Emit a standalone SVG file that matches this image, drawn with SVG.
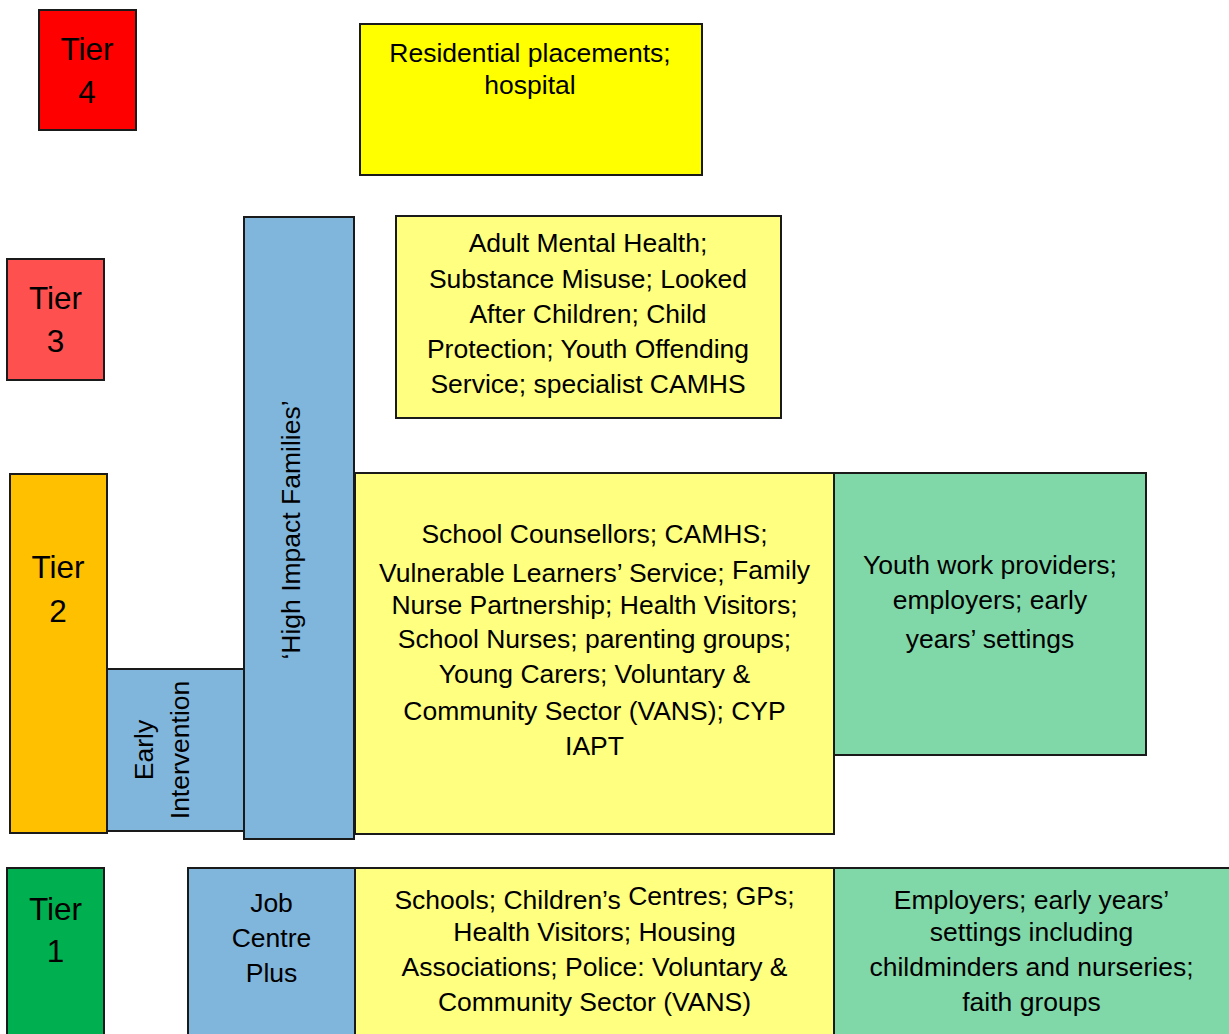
<svg xmlns="http://www.w3.org/2000/svg" width="1229" height="1034" viewBox="0 0 1229 1034">
  <style>
    .box { stroke: #1a1a1a; stroke-width: 2; }
    .t4 { fill: #FF0000; }
    .t3 { fill: #FF5050; }
    .t2 { fill: #FFC000; }
    .t1 { fill: #00B050; }
    .blue { fill: #80B6DC; }
    .yel { fill: #FFFF80; }
    .yelb { fill: #FFFF00; }
    .grn { fill: #80D8A8; }
    text { font-family: "Liberation Sans", Arial, sans-serif; fill: #000; text-anchor: middle; }
    .tier { font-size: 31.5px; }
    .body { font-size: 26.5px; }
  </style>
  <rect width="1229" height="1034" fill="#ffffff"/>

  <!-- Tier 4 -->
  <g id="tier4">
    <rect class="box t4" x="39" y="10" width="97" height="120"/>
    <text class="tier" x="87" y="60">Tier</text>
    <text class="tier" x="87" y="103">4</text>
  </g>
  <g id="residential">
    <rect class="box yelb" x="360" y="24" width="342" height="151"/>
    <text class="body" x="530" y="62">Residential placements;</text>
    <text class="body" x="530" y="94">hospital</text>
  </g>

  <!-- Tier 3 -->
  <g id="tier3">
    <rect class="box t3" x="7" y="259" width="97" height="121"/>
    <text class="tier" x="55.5" y="309">Tier</text>
    <text class="tier" x="55.5" y="352">3</text>
  </g>
  <g id="specialist">
    <rect class="box yel" x="396" y="216" width="385" height="202"/>
    <text class="body" x="588" y="252">Adult Mental Health;</text>
    <text class="body" x="588" y="288">Substance Misuse; Looked</text>
    <text class="body" x="588" y="323">After Children; Child</text>
    <text class="body" x="588" y="358">Protection; Youth Offending</text>
    <text class="body" x="588" y="393">Service; specialist CAMHS</text>
  </g>

  <!-- Tier 2 -->
  <g id="tier2">
    <rect class="box t2" x="10" y="474" width="97" height="359"/>
    <text class="tier" x="58" y="578">Tier</text>
    <text class="tier" x="58" y="622">2</text>
  </g>
  <g id="early-intervention">
    <rect class="box blue" x="107" y="669" width="137" height="162"/>
    <text class="body" transform="translate(153 750) rotate(-90)">Early</text>
    <text class="body" transform="translate(189 750) rotate(-90)">Intervention</text>
  </g>
  <g id="high-impact">
    <rect class="box blue" x="244" y="217" width="110" height="622"/>
    <text class="body" transform="translate(300 530) rotate(-90)">‘High Impact Families’</text>
  </g>
  <g id="targeted">
    <rect class="box yel" x="355" y="473" width="479" height="361"/>
    <text class="body" x="594.5" y="543">School Counsellors; CAMHS;</text>
    <text class="body" x="594.5" y="582">Vulnerable Learners’ Service; <tspan dy="-3">Family</tspan></text>
    <text class="body" x="594.5" y="614">Nurse Partnership; Health Visitors;</text>
    <text class="body" x="594.5" y="648">School Nurses; parenting groups;</text>
    <text class="body" x="594.5" y="683">Young Carers; Voluntary &amp;</text>
    <text class="body" x="594.5" y="720">Community Sector (VANS); CYP</text>
    <text class="body" x="594.5" y="755">IAPT</text>
  </g>
  <g id="youth-work">
    <rect class="box grn" x="834" y="473" width="312" height="282"/>
    <text class="body" x="990" y="574">Youth work providers;</text>
    <text class="body" x="990" y="609">employers; early</text>
    <text class="body" x="990" y="648">years’ settings</text>
  </g>

  <!-- Tier 1 -->
  <g id="tier1">
    <rect class="box t1" x="7" y="868" width="97" height="180"/>
    <text class="tier" x="55.5" y="920">Tier</text>
    <text class="tier" x="55.5" y="962">1</text>
  </g>
  <g id="job-centre">
    <rect class="box blue" x="188" y="868" width="167" height="180"/>
    <text class="body" x="271.5" y="912">Job</text>
    <text class="body" x="271.5" y="947">Centre</text>
    <text class="body" x="271.5" y="982">Plus</text>
  </g>
  <g id="universal">
    <rect class="box yel" x="355" y="868" width="479" height="180"/>
    <text class="body" x="594.5" y="909">Schools; Children’s <tspan dy="-4">Centres; GPs;</tspan></text>
    <text class="body" x="594.5" y="941">Health Visitors; Housing</text>
    <text class="body" x="594.5" y="976">Associations; Police: Voluntary &amp;</text>
    <text class="body" x="594.5" y="1011">Community Sector (VANS)</text>
  </g>
  <g id="community">
    <rect class="box grn" x="834" y="868" width="400" height="180"/>
    <text class="body" x="1031.5" y="909">Employers; early years’</text>
    <text class="body" x="1031.5" y="941">settings including</text>
    <text class="body" x="1031.5" y="976">childminders and nurseries;</text>
    <text class="body" x="1031.5" y="1011">faith groups</text>
  </g>

  <!-- no connectors in this chart -->
  <g id="connectors"/>
</svg>
